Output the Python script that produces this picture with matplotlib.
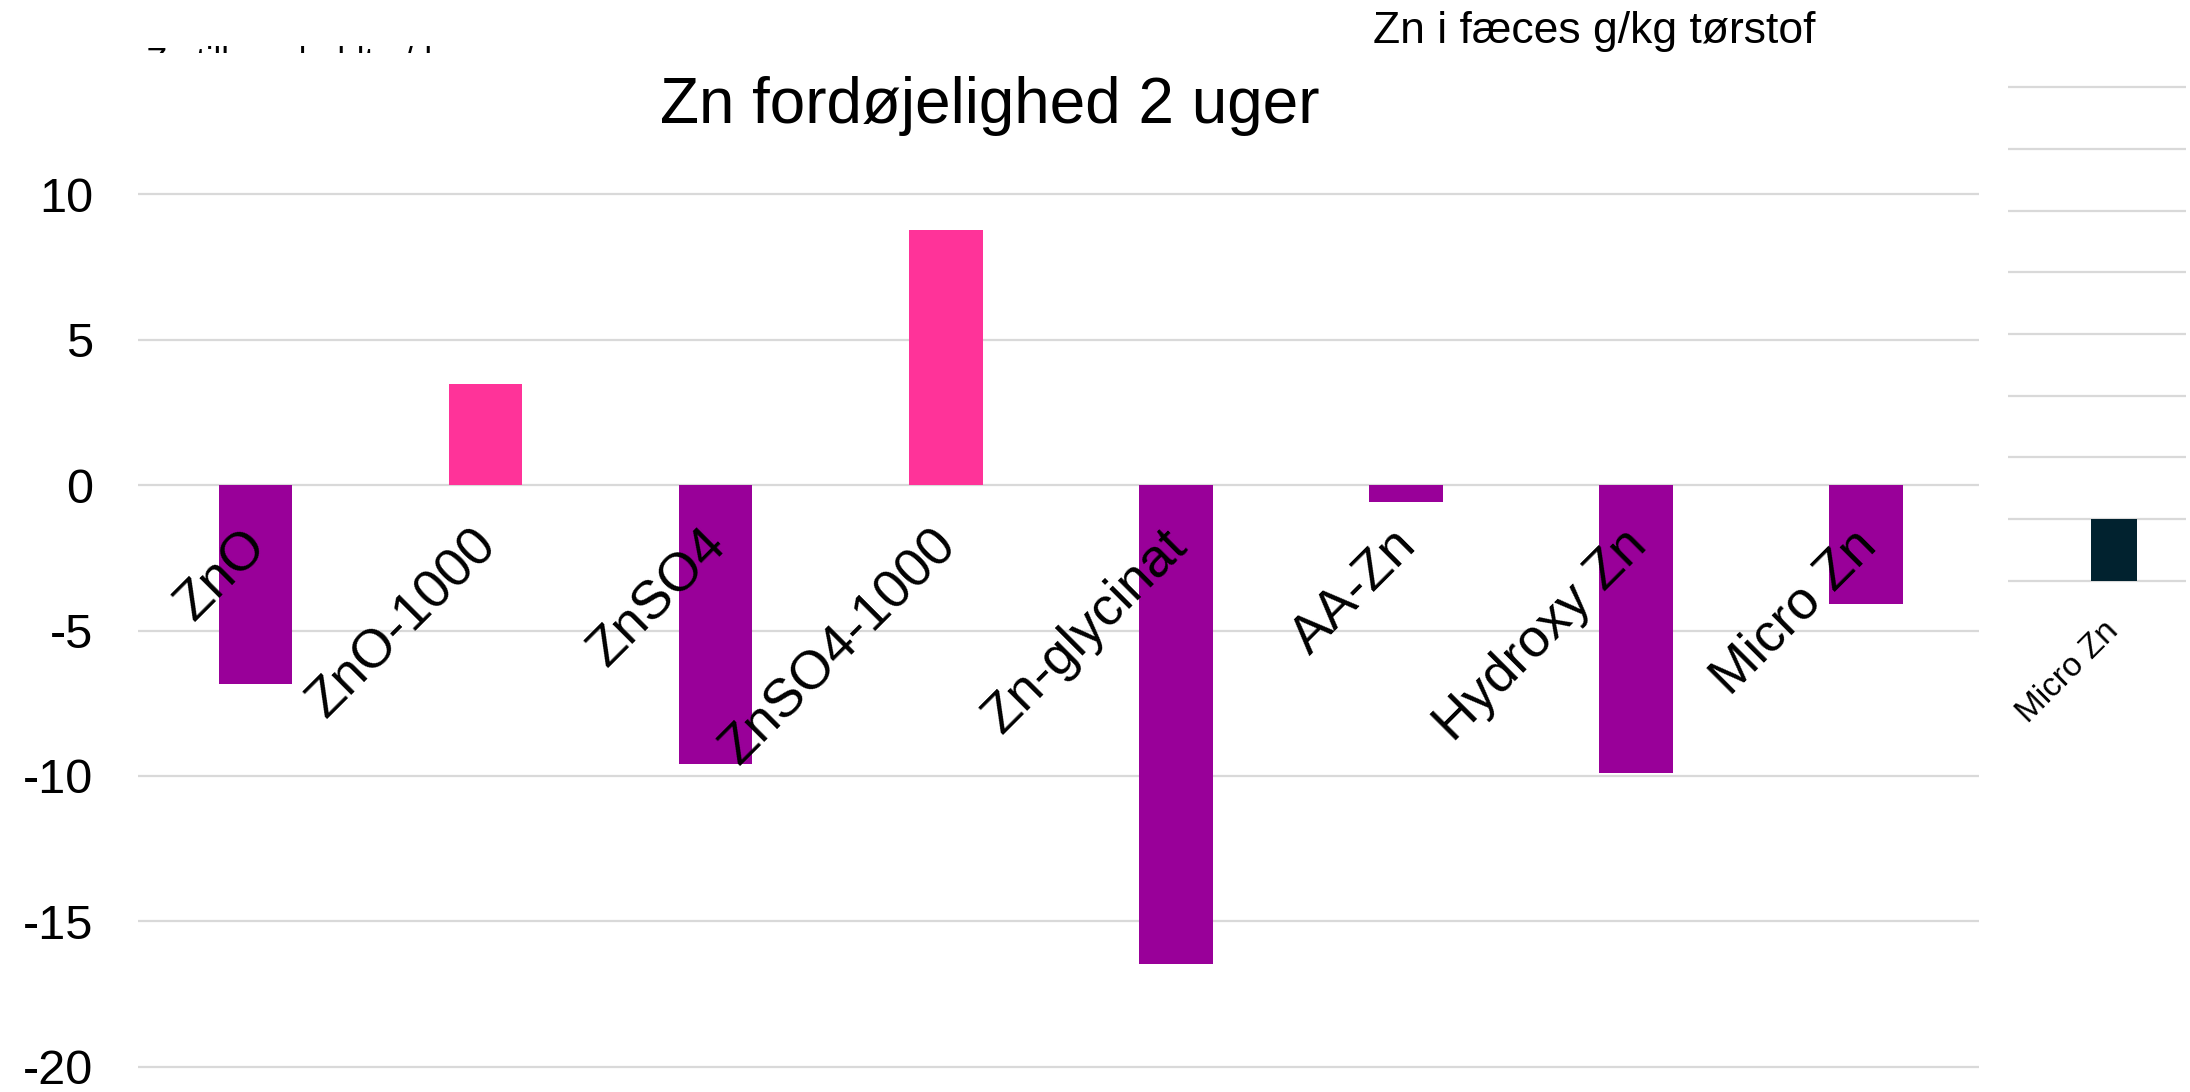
import matplotlib.pyplot as plt
import numpy as np

# Data
kategorier = ['ZnO', 'ZnO-1000', 'ZnSO4', 'ZnSO4-1000', 'Zn-glycinat',
              'AA-Zn', 'Hydroxy Zn', 'Micro Zn']
vaerdier = [-6.84, 3.47, -9.59, 8.75, -16.45, -0.6, -9.89, -4.10]
y_ticks = [-20, -15, -10, -5, 0, 5, 10]

# Afskåret nabo-diagram til højre
hoejre_kategorier = ['Micro Zn']
hoejre_vaerdier = [0.5]
hoejre_ticks = [0, 0.5, 1, 1.5, 2, 2.5, 3, 3.5, 4]

titel = 'Zn fordøjelighed 2 uger'
titel_hoejre = 'Zn i fæces g/kg tørstof'
titel_venstre = 'Zn tilbageholdt g/d'

LILLA = '#990099'
PINK = '#FF3399'
MOERK = '#01222F'
GRID = '#D9D9D9'

plt.rcParams['font.family'] = ['Liberation Sans', 'DejaVu Sans']
plt.rcParams['axes.unicode_minus'] = False

W, H = 2190, 1092
fig = plt.figure(figsize=(W / 100, H / 100), dpi=100)

# Hoveddiagram
ax = fig.add_axes([138 / W, 1 - 1072.8 / H, 1841 / W, 884.6 / H])
x = np.arange(len(kategorier))
farver = [LILLA if v < 0 else PINK for v in vaerdier]
ax.bar(x, vaerdier, width=0.32, color=farver, zorder=2)
ax.set_xlim(-0.51, len(kategorier) - 0.51)
ax.set_ylim(-20.2, 10.2)
ax.set_yticks(y_ticks)
ax.set_yticklabels([str(t) for t in y_ticks], fontsize=35)
ax.tick_params(axis='y', length=0, pad=32)
ax.tick_params(axis='x', bottom=False, labelbottom=False)
ax.grid(axis='y', color=GRID, lw=1.6, zorder=0)
ax.set_axisbelow(True)
for s in ax.spines.values():
    s.set_visible(False)

# Kategorietiketter lige under nul-linjen, drejet 45 grader
for i, navn in enumerate(kategorier):
    ax.annotate(navn, xy=(i, 0), xytext=(2, -38), textcoords='offset points',
                rotation=45, ha='right', va='center', rotation_mode='anchor',
                fontsize=39, zorder=5)

fig.text(990 / W, 1 - 123 / H, titel, fontsize=46, ha='center', va='baseline')
fig.text(1594 / W, 1 - 43 / H, titel_hoejre, fontsize=32, ha='center', va='baseline')

# Lille afskåret diagram til højre
ax2 = fig.add_axes([2008 / W, 1 - 584 / H, 178 / W, 500 / H])
ax2.bar(np.arange(len(hoejre_kategorier)), hoejre_vaerdier, width=0.22,
        color=MOERK, zorder=2)
ax2.set_xlim(-0.5, 0.34)
ax2.set_ylim(-0.025, 4.025)
ax2.set_yticks(hoejre_ticks)
ax2.tick_params(axis='both', length=0, labelleft=False, labelbottom=False)
ax2.grid(axis='y', color=GRID, lw=1.6, zorder=0)
ax2.set_axisbelow(True)
for s in ax2.spines.values():
    s.set_visible(False)
for i, navn in enumerate(hoejre_kategorier):
    ax2.annotate(navn, xy=(i, 0), xytext=(0, -33), textcoords='offset points',
                 rotation=45, ha='right', va='center', rotation_mode='anchor',
                 fontsize=24, annotation_clip=False)

# Akse-titel fra et diagram ovenover, som kun ses delvist
ax3 = fig.add_axes([0, 1 - 53 / H, 0.4, 53 / H])
ax3.axis('off')
ax3.text(146 / W, 1 - 72 / H, titel_venstre, fontsize=25, ha='left',
         va='baseline', transform=fig.transFigure, clip_on=True)

fig.savefig('out.png', dpi=100)
